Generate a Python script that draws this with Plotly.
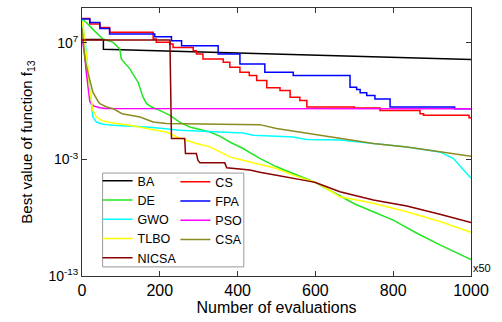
import plotly.graph_objects as go

# ---- data (x in evaluations x50, y given as log10 of best value) ----
ba_x = [0, 55, 55, 1000]
ba_y = [7.3, 7.3, 6.45, 5.57]

cs_x = [0, 20, 46, 71, 183, 191, 226, 234, 286, 294, 311, 363, 380, 406, 430, 449, 475, 509,
        535, 560, 578, 700, 766, 869, 878, 995, 1000]
cs_y = [9.1, 8.62, 8.33, 7.91, 7.34, 7.05, 6.91, 6.62, 6.34, 6.06, 5.63, 5.34, 4.91, 4.49, 4.2,
        3.78, 3.15, 2.92, 2.35, 2.07, 1.5, 1.42, 1.2, 0.93, 0.79, 0.59, 0.59]

de_x = [0, 3, 11, 30, 46, 54, 80, 97, 101, 123, 144, 153, 157, 166, 179, 200, 226, 251, 277,
        329, 354, 380, 414, 457, 500, 543, 586, 600, 620, 663, 700, 758, 800, 861, 920, 1000]
de_y = [9.05, 8.99, 8.76, 8.1, 7.62, 7.34, 7.05, 6.49, 5.63, 4.78, 3.63, 2.85, 2.35, 1.79, 1.5,
        1.21, 0.79, 0.21, -0.21, -0.64, -1.0, -1.5, -2.06, -2.91, -3.63, -4.2, -4.75, -4.97,
        -5.34, -6.1, -6.8, -7.62, -8.2, -9.33, -10.33, -11.6]

fpa_x = [0, 20, 46, 71, 187, 230, 256, 350, 406, 470, 543, 689, 706, 715, 732, 753, 792, 958, 1000]
fpa_y = [9.05, 8.76, 8.24, 7.77, 7.54, 7.2, 6.77, 6.06, 5.2, 4.49, 4.2, 3.2, 3.0, 2.72, 2.5,
         2.2, 1.5, 1.36, 1.36]

gwo_x = [0, 6, 11, 15, 20, 24, 28, 37, 54, 80, 166, 209, 251, 354, 414, 440, 543, 577, 663,
         749, 835, 920, 955, 981, 1000]
gwo_y = [9.0, 7.5, 6.3, 4.5, 2.9, 1.5, 0.64, 0.21, 0.02, -0.07, -0.21, -0.35, -0.5, -0.64,
         -0.73, -0.92, -1.07, -1.29, -1.32, -1.63, -1.92, -2.35, -2.92, -3.91, -4.6]

pso_x = [0, 3, 7, 11, 15, 20, 24, 30, 45, 60, 1000]
pso_y = [7.5, 6.9, 5.9, 4.49, 3.5, 2.0, 1.79, 1.6, 1.44, 1.38, 1.36]

tlbo_x = [0, 3, 8, 15, 20, 24, 28, 37, 54, 80, 123, 166, 217, 243, 269, 294, 329, 354, 380,
          414, 457, 500, 543, 586, 600, 620, 663, 749, 835, 920, 1000]
tlbo_y = [8.9, 8.4, 6.8, 5.0, 2.92, 1.79, 1.21, 0.64, 0.3, 0.13, -0.07, -0.35, -0.64, -1.07,
          -1.35, -1.63, -1.92, -2.35, -2.78, -3.06, -3.4, -3.77, -4.34, -4.85, -4.97, -5.3,
          -6.2, -6.76, -7.48, -8.33, -9.24]

csa_x = [0, 4, 8, 15, 28, 41, 46, 63, 80, 103, 123, 149, 183, 217, 354, 457, 500, 586, 663,
         749, 835, 920, 1000]
csa_y = [8.3, 6.5, 5.5, 4.49, 2.78, 2.0, 1.79, 1.5, 1.36, 0.93, 0.79, 0.64, 0.21, 0.08, 0.02,
         -0.01, -0.35, -0.78, -1.2, -1.63, -1.92, -2.35, -2.72]

nicsa_x = [0, 226, 230, 264, 266, 294, 298, 303, 367, 372, 432, 457, 500, 555, 586, 600, 663,
           749, 835, 920, 1000]
nicsa_y = [7.25, 7.25, -1.2, -1.2, -2.49, -2.49, -3.06, -3.29, -3.29, -3.72, -3.91, -4.1,
           -4.35, -4.65, -4.88, -4.97, -5.77, -6.48, -7.0, -7.7, -8.42]

y_tick_vals = [1e-13, 1e-3, 1e7]
y_tick_text = ["10<sup>-13</sup>", "10<sup>-3</sup>", "10<sup>7</sup>"]
x_tick_vals = [0, 200, 400, 600, 800, 1000]

series = [
    ("BA", ba_x, ba_y, "#000000", "linear", "legend"),
    ("CS", cs_x, cs_y, "#ff0000", "hv", "legend2"),
    ("DE", de_x, de_y, "#22e622", "linear", "legend"),
    ("FPA", fpa_x, fpa_y, "#0000ff", "hv", "legend2"),
    ("GWO", gwo_x, gwo_y, "#00ffff", "linear", "legend"),
    ("PSO", pso_x, pso_y, "#ff00ff", "linear", "legend2"),
    ("TLBO", tlbo_x, tlbo_y, "#ffff00", "linear", "legend"),
    ("CSA", csa_x, csa_y, "#8b8b22", "linear", "legend2"),
    ("NICSA", nicsa_x, nicsa_y, "#8b0000", "linear", "legend"),
]

fig = go.Figure()
for name, xs, ys, color, shape, lg in series:
    fig.add_trace(go.Scatter(
        x=xs, y=[10 ** v for v in ys], mode="lines", name=name,
        line=dict(color=color, width=1.5, shape=shape), legend=lg))

font = "Liberation Sans, Arial, sans-serif"
axis_common = dict(showline=True, linecolor="#333333", linewidth=1, mirror="ticks",
                   ticks="inside", ticklen=5, tickcolor="#333333", showgrid=False,
                   zeroline=False)

fig.update_layout(
    width=502, height=322,
    margin=dict(l=82, r=31, t=8, b=46),
    paper_bgcolor="white", plot_bgcolor="white",
    font=dict(family=font, color="#000000"),
    xaxis=dict(range=[0, 1000], tickvals=x_tick_vals,
               tickfont=dict(family=font, size=16, color="#000000"),
               title=dict(text="Number of evaluations", font=dict(size=16), standoff=2),
               **axis_common),
    yaxis=dict(type="log", range=[-13, 10], tickvals=y_tick_vals, ticktext=y_tick_text,
               tickfont=dict(family=font, size=14, color="#000000"),
               title=dict(text="Best value of function f<sub>13</sub>", font=dict(size=15),
                          standoff=12),
               **axis_common),
    legend=dict(x=0.04, y=0.011, xanchor="left", yanchor="bottom", bgcolor="rgba(0,0,0,0)",
                font=dict(size=12.5), tracegroupgap=0, itemwidth=30),
    legend2=dict(x=0.24, y=0.082, xanchor="left", yanchor="bottom",
                 bgcolor="rgba(0,0,0,0)", font=dict(size=12.5), tracegroupgap=0, itemwidth=30),
    showlegend=True,
)

fig.add_shape(type="rect", xref="paper", yref="paper", x0=0.053, x1=0.416, y0=0.034, y1=0.384,
              line=dict(color="#999999", width=1), fillcolor="white", layer="above")

fig.add_annotation(text="x50", xref="paper", yref="paper", x=1.0, y=0.03, xanchor="left",
                   yanchor="middle", showarrow=False, font=dict(size=11, family=font))

fig.write_html("out.html")
